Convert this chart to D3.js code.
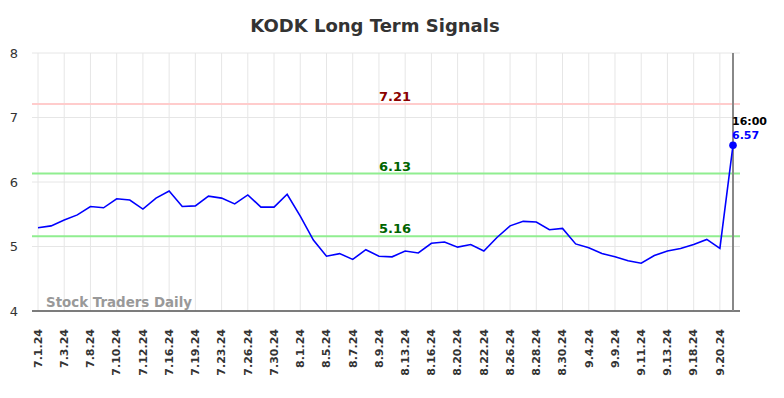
<!DOCTYPE html>
<html><head><meta charset="utf-8">
<script src="https://cdn.jsdelivr.net/npm/d3@7"></script>
<style>body{margin:0;background:#fff}svg{display:block}text{font-family:"DejaVu Sans",sans-serif}</style>
</head><body><svg id="c" width="784" height="398"></svg>
<script>
const dates = ["7.1.24","7.2.24","7.3.24","7.5.24","7.8.24","7.9.24","7.10.24","7.11.24","7.12.24","7.15.24",
"7.16.24","7.18.24","7.19.24","7.22.24","7.23.24","7.25.24","7.26.24","7.29.24","7.30.24","7.31.24",
"8.1.24","8.2.24","8.5.24","8.6.24","8.7.24","8.8.24","8.9.24","8.12.24","8.13.24","8.15.24",
"8.16.24","8.19.24","8.20.24","8.21.24","8.22.24","8.23.24","8.26.24","8.27.24","8.28.24","8.29.24",
"8.30.24","9.3.24","9.4.24","9.6.24","9.9.24","9.10.24","9.11.24","9.12.24","9.13.24","9.17.24",
"9.18.24","9.19.24","9.20.24","16:00"];
const prices = [5.29,5.32,5.41,5.49,5.62,5.60,5.74,5.72,5.58,5.75,
5.86,5.62,5.63,5.78,5.75,5.66,5.80,5.61,5.61,5.81,
5.47,5.10,4.85,4.89,4.80,4.95,4.85,4.84,4.93,4.90,
5.05,5.07,4.99,5.03,4.93,5.14,5.32,5.39,5.38,5.26,
5.28,5.04,4.98,4.89,4.84,4.78,4.74,4.86,4.93,4.97,
5.03,5.11,4.97,6.57];
const yTicks = [4,5,6,7,8];
const signalValues = [7.21,6.13,5.16];
const signalLabels = ["7.21","6.13","5.16"];
const signalLine = ["#ffcccc","#90ee90","#90ee90"];
const signalText = ["#8b0000","#006400","#006400"];
const title = "KODK Long Term Signals";
const lastTime = "16:00";

const svg = d3.select("#c");
const L = 32, R = 740, T = 53, B = 311;
const x = d3.scalePoint().domain(dates).range([38, 733]);
const y = d3.scaleLinear().domain([4, 8]).range([B, T]);
const labelDates = dates.filter((d,i)=> i%2===0);

// grid
svg.append("g").selectAll("line").data(labelDates).join("line")
  .attr("x1", d=>x(d)).attr("x2", d=>x(d)).attr("y1", T).attr("y2", B)
  .attr("stroke", "#e6e6e6").attr("stroke-width", 1);
svg.append("g").selectAll("line").data(yTicks).join("line")
  .attr("x1", L).attr("x2", R).attr("y1", d=>y(d)).attr("y2", d=>y(d))
  .attr("stroke", "#e6e6e6").attr("stroke-width", 1);

// y axis labels
const ya = svg.append("g").attr("transform", `translate(${L},0)`)
  .call(d3.axisLeft(y).tickValues(yTicks).tickSize(0).tickPadding(14).tickFormat(d3.format("d")));
ya.select(".domain").remove();
ya.selectAll("text").attr("font-size", 13).attr("fill", "#333").attr("font-family", "DejaVu Sans");

// watermark
svg.append("text").attr("x", 46).attr("y", 307).text("Stock Traders Daily")
  .attr("font-size", 13.4).attr("font-weight", "bold").attr("fill", "#999");

// signal lines
signalValues.forEach((v,i)=>{
  svg.append("line").attr("x1", L).attr("x2", R).attr("y1", y(v)).attr("y2", y(v))
    .attr("stroke", signalLine[i]).attr("stroke-width", 2);
  svg.append("text").attr("x", 395).attr("y", y(v)-3).attr("text-anchor","middle")
    .attr("font-size", 13).attr("font-weight","bold").attr("fill", signalText[i]).text(signalLabels[i]);
});

// x axis
const xa = svg.append("g").attr("transform", `translate(0,${B})`)
  .call(d3.axisBottom(x).tickValues(labelDates).tickSize(0).tickPadding(0));
xa.select(".domain").remove();
xa.selectAll("text").attr("font-size", 11).attr("font-weight","bold").attr("fill","#333")
  .attr("font-family","DejaVu Sans")
  .attr("transform","rotate(-90)").attr("text-anchor","end")
  .attr("x", -18).attr("y", 0).attr("dy", "0.3em").attr("dx", 0);
svg.append("line").attr("x1", L).attr("x2", R).attr("y1", B).attr("y2", B)
  .attr("stroke", "#555").attr("stroke-width", 1.5);

// vertical marker at last point
const lastD = dates[dates.length-1], lastV = prices[prices.length-1];
svg.append("line").attr("x1", x(lastD)).attr("x2", x(lastD)).attr("y1", T).attr("y2", B)
  .attr("stroke", "#888").attr("stroke-width", 2);

// price line
svg.append("path").datum(prices)
  .attr("d", d3.line().x((d,i)=>x(dates[i])).y(d=>y(d)))
  .attr("fill","none").attr("stroke","#0000ff").attr("stroke-width",1.6);
svg.append("circle").attr("cx", x(lastD)).attr("cy", y(lastV)).attr("r", 3.8).attr("fill","#0000ff");
svg.append("text").attr("x", x(lastD)-1).attr("y", 125).text(lastTime)
  .attr("font-size", 11).attr("font-weight","bold").attr("fill","#000");
svg.append("text").attr("x", x(lastD)-1).attr("y", 139).text(d3.format(".2f")(lastV))
  .attr("font-size", 11).attr("font-weight","bold").attr("fill","#0000ff");

// title
svg.append("text").attr("x", 375).attr("y", 32).attr("text-anchor","middle").text(title)
  .attr("font-size", 18).attr("font-weight","bold").attr("fill","#333");
</script></body></html>
